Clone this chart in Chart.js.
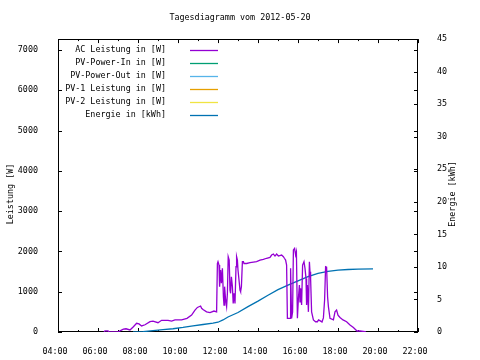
<!DOCTYPE html>
<html lang="de">
<head>
  <meta charset="UTF-8" />
  <title>Tagesdiagramm vom 2012-05-20</title>
  <script src="https://cdn.jsdelivr.net/npm/chart.js"></script>
  <style>
    html, body { margin: 0; padding: 0; background: #fff; }
    #wrap { width: 480px; height: 360px; }
  </style>
</head>
<body>
  <div id="wrap"><canvas id="tagesChart"></canvas></div>

  <script>
    // Zeit in Stunden (dezimal)
    const acZeit = [6.30, 6.35, 6.50, 6.55, 7.00, 7.10, 7.27, 7.40, 7.60, 7.77, 7.93, 8.05, 8.18, 8.35, 8.60, 8.75,
      9.00, 9.18, 9.50, 9.68, 9.85, 10.18, 10.45, 10.68, 10.85, 10.97, 11.13, 11.18, 11.25, 11.43, 11.60, 11.80, 11.93,
      11.97, 12.00, 12.05, 12.08, 12.13, 12.17, 12.22, 12.27, 12.30, 12.33, 12.38, 12.43, 12.47, 12.51, 12.56, 12.60,
      12.63, 12.67, 12.72, 12.76, 12.80, 12.85, 12.90, 12.93, 12.97, 13.00, 13.05, 13.10, 13.13, 13.17, 13.22, 13.27,
      13.30, 13.43, 13.60, 13.77, 13.93, 14.10, 14.27, 14.43, 14.60, 14.68, 14.77, 14.85, 14.93, 15.02, 15.18, 15.27,
      15.32, 15.38, 15.43, 15.47, 15.60, 15.63, 15.68, 15.73, 15.77, 15.83, 15.88, 15.92, 15.97, 16.02, 16.07, 16.10,
      16.13, 16.18, 16.23, 16.30, 16.35, 16.40, 16.43, 16.47, 16.52, 16.57, 16.60, 16.63, 16.68, 16.77, 16.88, 16.97,
      17.03, 17.20, 17.27, 17.33, 17.38, 17.43, 17.48, 17.52, 17.60, 17.77, 17.85, 17.93, 18.00, 18.10, 18.25, 18.43,
      18.60, 18.77, 18.95, 19.10, 19.35, 19.40];
    const acWatt = [0, 30, 30, 0, 0, 30, 70, 80, 50, 130, 215, 200, 150, 180, 255, 270,
      230, 290, 290, 270, 300, 300, 340, 420, 545, 610, 645, 590, 560, 500, 480, 520, 500,
      1700, 1745, 1660, 1125, 1540, 1210, 1580, 875, 670, 1125, 795, 630, 960, 1870, 1785, 1040,
      960, 1370, 1125, 710, 960, 710, 1620, 1870, 1785, 1540, 1290, 1040, 1000, 1125, 1745, 1745,
      1700, 1700, 1720, 1735, 1745, 1785, 1800, 1830, 1850, 1910, 1935, 1885, 1935, 1885, 1910, 1870,
      1830, 1785, 1660, 340, 340, 1580, 340, 500, 2035, 2075, 1910, 1990, 340, 835, 1165, 750,
      1085, 670, 1660, 1745, 1580, 1330, 670, 1165, 500, 1745, 1495, 1330, 500, 300, 255, 255,
      300, 250, 350, 795, 1620, 1610, 870, 630, 340, 300, 500, 545, 420, 360, 300, 255,
      175, 110, 25, 25, 10, 0];

    const energieZeit = [7.75, 8.25, 8.75, 9.25, 9.75, 10.25, 10.75, 11.25, 11.75, 12.0, 12.25, 12.5, 13.0,
      13.5, 14.0, 14.5, 15.0, 15.5, 16.0, 16.5, 17.0, 17.5, 18.0, 18.5, 19.0, 19.75];
    const energieKWh = [0, 0.05, 0.2, 0.35, 0.5, 0.7, 0.95, 1.15, 1.35, 1.5, 1.85, 2.3, 3.0,
      3.9, 4.75, 5.65, 6.5, 7.2, 7.85, 8.5, 9.0, 9.3, 9.5, 9.6, 9.65, 9.7];

    const leistungTicks = [0, 1000, 2000, 3000, 4000, 5000, 6000, 7000];

    const serienNamen = ['AC Leistung in [W]', 'PV-Power-In in [W]', 'PV-Power-Out in [W]',
      'PV-1 Leistung in [W]', 'PV-2 Leistung in [W]', 'Energie in [kWh]'];
    const serienFarben = ['#9400d3', '#009e73', '#56b4e9', '#e69f00', '#f0e442', '#0072b2'];

    const FONT = { family: '"DejaVu Sans Mono", monospace', size: 8.4, weight: 'normal' };

    function punkte(zeit, werte) {
      return zeit.map((t, i) => ({ x: t, y: werte[i] }));
    }

    const datasets = serienNamen.map((name, i) => ({
      label: name,
      data: [],
      borderColor: serienFarben[i],
      backgroundColor: serienFarben[i],
      borderWidth: 1.3,
      pointRadius: 0,
      tension: 0,
      yAxisID: 'y'
    }));
    datasets[0].data = punkte(acZeit, acWatt);
    datasets[5].data = punkte(energieZeit, energieKWh);
    datasets[5].yAxisID = 'y2';

    // Rahmen mit nach innen zeigenden Ticks wie bei gnuplot
    const rahmen = {
      id: 'rahmen',
      beforeDatasetsDraw(chart) {
        const { ctx, chartArea: a, scales } = chart;
        ctx.save();
        ctx.strokeStyle = '#000';
        ctx.lineWidth = 1;
        ctx.strokeRect(Math.round(a.left) + 0.5, Math.round(a.top) + 0.5,
          Math.round(a.right - a.left) - 1, Math.round(a.bottom - a.top) - 1);
        ctx.beginPath();
        for (let h = 4; h <= 22; h++) {
          const x = Math.round(scales.x.getPixelForValue(h)) + 0.5;
          const len = h % 2 === 0 ? 4 : 2;
          ctx.moveTo(x, a.bottom); ctx.lineTo(x, a.bottom - len);
          ctx.moveTo(x, a.top); ctx.lineTo(x, a.top + len);
        }
        leistungTicks.forEach(w => {
          const y = Math.round(scales.y.getPixelForValue(w)) + 0.5;
          ctx.moveTo(a.left, y); ctx.lineTo(a.left + 4, y);
          ctx.moveTo(a.right, y); ctx.lineTo(a.right - 4, y);
        });
        for (let e = 0; e <= 45; e += 5) {
          const y = Math.round(scales.y2.getPixelForValue(e)) + 0.5;
          ctx.moveTo(a.right, y); ctx.lineTo(a.right - 4, y);
        }
        ctx.stroke();
        ctx.restore();
      },
      afterDraw(chart) {
        const { ctx, chartArea: a } = chart;
        ctx.save();
        ctx.font = FONT.size + 'px ' + FONT.family;
        ctx.fillStyle = '#000';
        ctx.textBaseline = 'middle';
        // Legende oben links, Text rechtsbündig, Linie rechts daneben
        chart.data.datasets.forEach((ds, i) => {
          const y = a.top + 10.5 + i * 13;
          ctx.textAlign = 'right';
          ctx.fillText(ds.label, a.left + 108, y);
          ctx.strokeStyle = ds.borderColor;
          ctx.lineWidth = 1.3;
          ctx.beginPath();
          ctx.moveTo(a.left + 132, Math.round(y) + 0.5);
          ctx.lineTo(a.left + 160, Math.round(y) + 0.5);
          ctx.stroke();
        });
        // Achsentitel
        ctx.textAlign = 'center';
        [['Leistung [W]', 11], ['Energie [kWh]', 452.5]].forEach(([txt, x]) => {
          ctx.save();
          ctx.translate(x, 194);
          ctx.rotate(-Math.PI / 2);
          ctx.fillText(txt, 0, 0);
          ctx.restore();
        });
        ctx.restore();
      }
    };

    new Chart(document.getElementById('tagesChart'), {
      type: 'line',
      data: { datasets },
      options: {
        responsive: true,
        maintainAspectRatio: false,
        animation: false,
        devicePixelRatio: 1,
        layout: { padding: 0 },
        plugins: {
          legend: { display: false },
          tooltip: { enabled: false },
          title: {
            display: true,
            text: 'Tagesdiagramm vom 2012-05-20',
            color: '#000',
            font: FONT,
            padding: { top: 13, bottom: 16 }
          }
        },
        scales: {
          x: {
            type: 'linear',
            position: 'bottom',
            min: 4,
            max: 22,
            grid: { display: false },
            border: { display: false },
            ticks: {
              stepSize: 2,
              autoSkip: false,
              maxRotation: 0,
              color: '#000',
              font: FONT,
              padding: 7,
              labelOffset: -3,
              callback: v => String(v).padStart(2, '0') + ':00'
            },
            afterFit: s => { s.height = 28; }
          },
          y: {
            position: 'left',
            min: 0,
            max: 7270,
            grid: { display: false },
            border: { display: false },
            ticks: { autoSkip: false, color: '#000', font: FONT, padding: 12, callback: v => String(v) },
            afterBuildTicks: s => { s.ticks = leistungTicks.map(v => ({ value: v })); },
            afterFit: s => { s.width = 58; }
          },
          y2: {
            position: 'right',
            min: 0,
            max: 45,
            grid: { display: false },
            border: { display: false },
            ticks: { stepSize: 5, color: '#000', font: FONT, padding: 11 },
            afterFit: s => { s.width = 62; }
          }
        }
      },
      plugins: [rahmen]
    });
  </script>
</body>
</html>
